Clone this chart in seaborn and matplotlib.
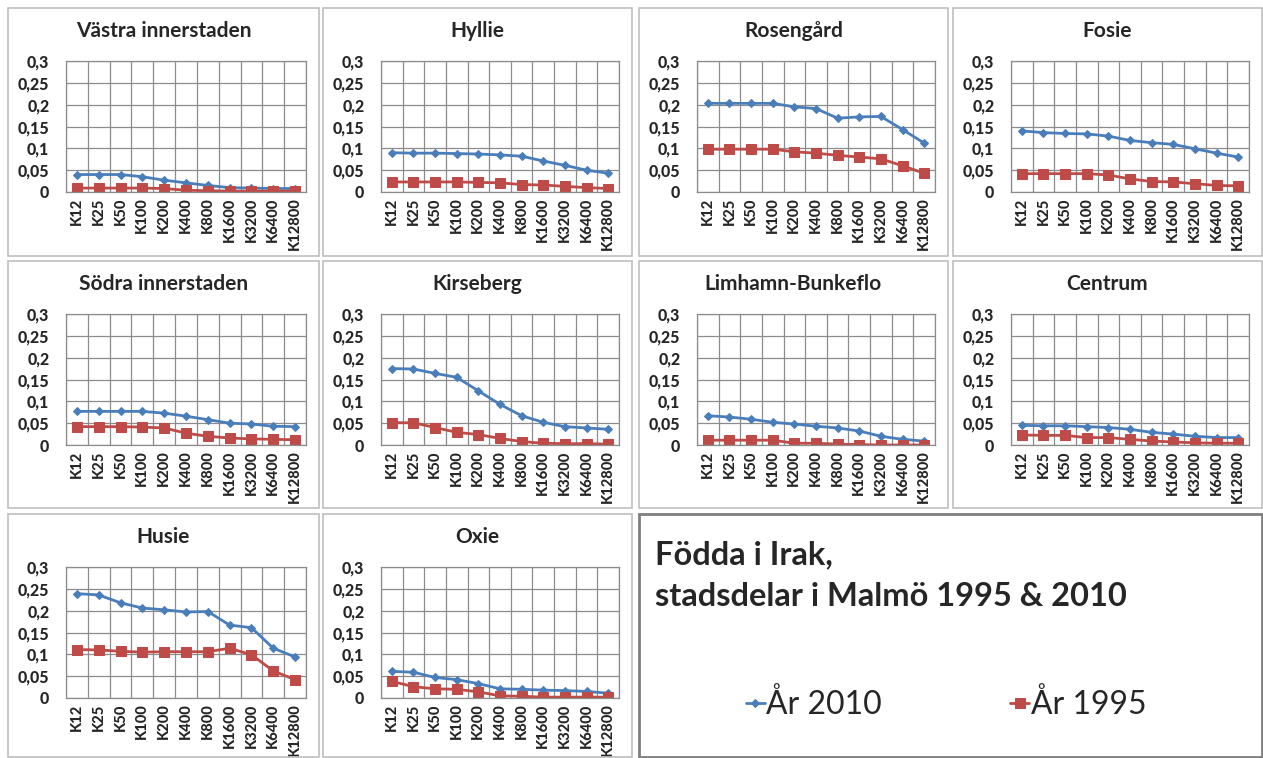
import pandas as pd
import seaborn as sns
import matplotlib.pyplot as plt
from matplotlib.patches import Rectangle
from matplotlib.ticker import FuncFormatter

# kategorier (K-grannskap) och stadsdelar
kategorier = ['K12', 'K25', 'K50', 'K100', 'K200', 'K400', 'K800', 'K1600', 'K3200', 'K6400', 'K12800']
stadsdelar = ['Västra innerstaden', 'Hyllie', 'Rosengård', 'Fosie',
              'Södra innerstaden', 'Kirseberg', 'Limhamn-Bunkeflo', 'Centrum',
              'Husie', 'Oxie']

# andel födda i Irak
vastra_2010 = [0.040, 0.040, 0.040, 0.035, 0.027, 0.021, 0.015, 0.010, 0.009, 0.008, 0.008]
vastra_1995 = [0.009, 0.009, 0.009, 0.009, 0.008, 0.004, 0.003, 0.002, 0.002, 0.002, 0.002]
hyllie_2010 = [0.090, 0.089, 0.089, 0.088, 0.087, 0.085, 0.082, 0.071, 0.061, 0.050, 0.043]
hyllie_1995 = [0.023, 0.023, 0.023, 0.023, 0.022, 0.021, 0.017, 0.016, 0.013, 0.010, 0.008]
rosengard_2010 = [0.203, 0.203, 0.203, 0.203, 0.195, 0.191, 0.169, 0.172, 0.173, 0.143, 0.112]
rosengard_1995 = [0.098, 0.098, 0.098, 0.098, 0.092, 0.089, 0.084, 0.080, 0.076, 0.060, 0.043]
fosie_2010 = [0.140, 0.136, 0.134, 0.133, 0.128, 0.118, 0.113, 0.109, 0.099, 0.089, 0.080]
fosie_1995 = [0.042, 0.042, 0.042, 0.042, 0.039, 0.030, 0.024, 0.023, 0.019, 0.015, 0.014]
sodra_2010 = [0.077, 0.077, 0.077, 0.077, 0.073, 0.066, 0.058, 0.050, 0.048, 0.043, 0.042]
sodra_1995 = [0.042, 0.042, 0.042, 0.041, 0.039, 0.027, 0.020, 0.016, 0.014, 0.013, 0.012]
kirseberg_2010 = [0.175, 0.174, 0.164, 0.155, 0.124, 0.093, 0.067, 0.052, 0.042, 0.039, 0.036]
kirseberg_1995 = [0.051, 0.051, 0.040, 0.029, 0.024, 0.015, 0.008, 0.004, 0.003, 0.003, 0.002]
limhamn_2010 = [0.067, 0.064, 0.059, 0.052, 0.048, 0.043, 0.039, 0.032, 0.020, 0.013, 0.009]
limhamn_1995 = [0.011, 0.011, 0.011, 0.011, 0.004, 0.004, 0.002, 0.001, 0.000, 0.000, 0.000]
centrum_2010 = [0.045, 0.044, 0.044, 0.042, 0.040, 0.036, 0.029, 0.025, 0.020, 0.017, 0.017]
centrum_1995 = [0.023, 0.022, 0.022, 0.017, 0.017, 0.013, 0.009, 0.007, 0.005, 0.004, 0.004]
husie_2010 = [0.239, 0.236, 0.218, 0.206, 0.202, 0.197, 0.198, 0.167, 0.161, 0.114, 0.094]
husie_1995 = [0.111, 0.110, 0.107, 0.105, 0.106, 0.106, 0.106, 0.114, 0.099, 0.062, 0.042]
oxie_2010 = [0.061, 0.059, 0.047, 0.042, 0.033, 0.021, 0.020, 0.018, 0.017, 0.015, 0.011]
oxie_1995 = [0.038, 0.026, 0.021, 0.020, 0.014, 0.005, 0.004, 0.002, 0.002, 0.002, 0.002]

serier_2010 = [vastra_2010, hyllie_2010, rosengard_2010, fosie_2010, sodra_2010,
               kirseberg_2010, limhamn_2010, centrum_2010, husie_2010, oxie_2010]
serier_1995 = [vastra_1995, hyllie_1995, rosengard_1995, fosie_1995, sodra_1995,
               kirseberg_1995, limhamn_1995, centrum_1995, husie_1995, oxie_1995]

rader = []
for namn, v10, v95 in zip(stadsdelar, serier_2010, serier_1995):
    for i, k in enumerate(kategorier):
        rader.append({'stadsdel': namn, 'serie': 'År 2010', 'pos': i, 'andel': v10[i]})
        rader.append({'stadsdel': namn, 'serie': 'År 1995', 'pos': i, 'andel': v95[i]})
df = pd.DataFrame(rader)

sns.set_style('white')
plt.rcParams['font.family'] = ['Lato', 'DejaVu Sans']
plt.rcParams['font.weight'] = 'bold'

BLA = '#4A7EBB'
ROD = '#BE4B48'
GRID = '#8C8C8C'

W, H = 1263, 758
fig = plt.figure(figsize=(W / 100, H / 100), dpi=100)

ramar_x = [(8, 319), (323, 632), (639, 948), (953, 1262)]
ramar_y = [(8, 256), (261, 508), (514, 757)]


def fx(px):
    return px / W


def fy(py):
    return 1 - py / H


komma = FuncFormatter(lambda v, p: ('%g' % round(v, 2)).replace('.', ','))

axlar = []
for n, namn in enumerate(stadsdelar):
    rad, kol = divmod(n, 4)
    x0, x1 = ramar_x[kol]
    y0, y1 = ramar_y[rad]
    # panelram
    fig.patches.append(Rectangle((fx(x0), fy(y1)), fx(x1 - x0), (y1 - y0) / H,
                                 transform=fig.transFigure, fill=False,
                                 edgecolor='#BFBFBF', linewidth=1.2))
    fig.text(fx((x0 + x1) / 2), fy(y0 + 23), namn, ha='center', va='center',
             fontsize=15, fontweight='bold')
    px0, px1 = x0 + 58, x1 - 13
    py0, py1 = y0 + 53, y0 + 184
    ax = fig.add_axes([fx(px0), fy(py1), fx(px1 - px0), (py1 - py0) / H])
    sub = df[df['stadsdel'] == namn]
    sns.lineplot(data=sub[sub['serie'] == 'År 2010'], x='pos', y='andel', ax=ax,
                 color=BLA, marker='D', markersize=4.5, markeredgecolor=BLA,
                 linewidth=2, label='År 2010', legend=False)
    sns.lineplot(data=sub[sub['serie'] == 'År 1995'], x='pos', y='andel', ax=ax,
                 color=ROD, marker='s', markersize=7, markeredgecolor=ROD,
                 linewidth=2, label='År 1995', legend=False)
    ax.set_xlim(-0.5, len(kategorier) - 0.5)
    ax.set_ylim(0, 0.3)
    ax.set_xticks(range(len(kategorier)))
    ax.set_xticklabels(kategorier, rotation=90)
    ax.set_xticks([i - 0.5 for i in range(len(kategorier) + 1)], minor=True)
    ax.set_yticks([0, 0.05, 0.1, 0.15, 0.2, 0.25, 0.3])
    ax.yaxis.set_major_formatter(komma)
    ax.tick_params(axis='both', which='both', length=0)
    ax.tick_params(axis='y', pad=12, labelsize=11.5)
    ax.tick_params(axis='x', pad=4, labelsize=10.5)
    ax.grid(axis='y', which='major', color=GRID, linewidth=0.9)
    ax.grid(axis='x', which='minor', color=GRID, linewidth=0.9)
    ax.grid(axis='x', which='major', visible=False)
    ax.set_axisbelow(True)
    for s in ax.spines.values():
        s.set_color(GRID)
        s.set_linewidth(0.9)
    ax.set_xlabel('')
    ax.set_ylabel('')
    axlar.append(ax)

for ax in axlar:
    for t in ax.get_xticklabels() + ax.get_yticklabels():
        t.set_fontweight(900)

# panel med rubrik och teckenförklaring
lx0, lx1 = 639, 1262
ly0, ly1 = 514, 757
fig.patches.append(Rectangle((fx(lx0), fy(ly1)), fx(lx1 - lx0), (ly1 - ly0) / H,
                             transform=fig.transFigure, fill=False,
                             edgecolor='#7F7F7F', linewidth=2))
fig.text(fx(655), fy(555), 'Födda i Irak,', ha='left', va='center',
         fontsize=23.5, fontweight='bold')
fig.text(fx(655), fy(597), 'stadsdelar i Malmö 1995 & 2010', ha='left', va='center',
         fontsize=23.5, fontweight='bold')

handtag = axlar[0].get_lines()[:2]
fig.legend(handtag, ['År 2010', 'År 1995'], loc='center',
           bbox_to_anchor=(fx(946), fy(705)), ncol=2, frameon=False,
           prop={'size': 23, 'weight': 'normal'}, handlelength=0.6,
           handletextpad=0.05, columnspacing=4.0)

fig.savefig('out.png', dpi=100)
